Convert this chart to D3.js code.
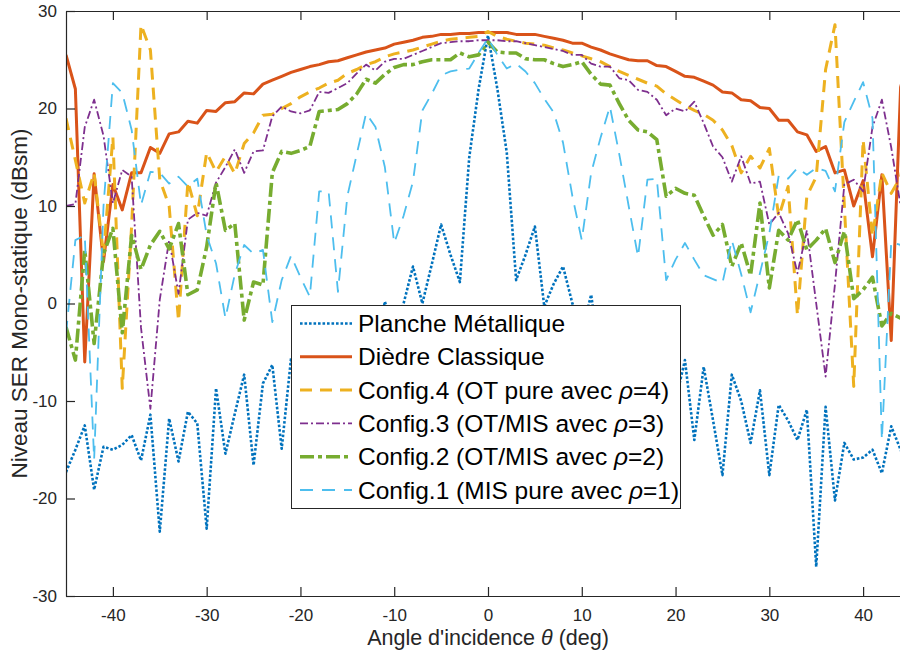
<!DOCTYPE html>
<html>
<head>
<meta charset="utf-8">
<script src="https://cdn.jsdelivr.net/npm/d3@7"></script>
<style>
  html, body { margin: 0; padding: 0; background: #fff; }
  svg { display: block; font-family: "Liberation Sans", Arial, Helvetica, sans-serif; }
</style>
</head>
<body>
<svg id="chart" width="900" height="653"></svg>
<script>
// Incidence angles (deg), one sample per degree
const angles = d3.range(-45, 46, 1);

// Monostatic RCS levels (dBsm) for each configuration
const planche = [-17.3,-15.0,-12.5,-19.1,-14.7,-15.0,-14.5,-13.5,-16.1,-11.4,-23.4,-11.8,-16.2,-11.1,-12.3,-23.1,-8.7,-15.4,-11.3,-7.3,-16.6,-8.2,-6.3,-14.9,-5.6,-12.0,-4.0,-10.0,-3.0,-9.0,-2.5,-8.0,-1.5,-6.0,0.2,-3.0,0.0,3.8,0.0,4.0,8.1,5.0,2.2,15.0,22.0,27.5,22.0,15.5,2.4,5.0,7.9,-0.3,2.0,3.8,0.0,-3.0,0.9,-6.0,-2.0,-8.0,-3.0,-9.0,-4.0,-10.0,-3.0,-10.0,-5.8,-14.0,-6.5,-12.0,-17.6,-7.3,-10.0,-14.3,-8.9,-17.6,-10.4,-12.0,-14.0,-10.9,-27.0,-10.6,-20.2,-14.3,-16.0,-15.8,-15.0,-17.4,-12.6,-15.0,-17.3];
const diedre = [25.5,22.0,-6.0,13.3,4.3,12.2,9.6,13.4,13.4,16.0,15.4,17.4,17.6,18.7,18.5,19.8,19.7,20.6,20.7,21.6,21.5,22.5,22.9,23.3,23.7,24.0,24.3,24.5,24.8,24.9,25.2,25.5,25.8,26.0,26.2,26.6,26.8,27.0,27.3,27.4,27.6,27.6,27.7,27.7,27.8,27.8,27.8,27.8,27.6,27.6,27.6,27.4,27.2,27.0,26.7,26.7,26.3,26.0,25.6,25.3,25.0,24.9,24.9,24.4,24.3,23.8,23.3,23.2,22.8,22.4,21.7,21.6,20.9,20.8,20.1,20.0,18.8,18.8,17.6,17.3,15.6,16.1,13.4,13.7,10.0,12.6,4.8,13.2,-3.8,22.2,25.5];
const config4 = [19.0,14.7,10.3,13.4,5.0,17.1,-8.7,8.0,28.6,26.0,12.7,10.0,-1.8,12.5,9.0,15.5,13.5,15.1,13.3,16.4,17.5,19.3,19.4,20.0,20.5,21.2,21.7,22.1,22.6,22.9,23.6,24.0,24.5,24.8,25.3,25.6,25.8,26.0,26.3,26.6,26.9,27.1,27.2,27.3,27.4,27.9,27.4,27.1,26.9,26.7,26.6,26.5,26.2,26.0,25.7,25.4,25.1,24.8,24.3,23.8,23.4,23.0,22.6,22.3,21.5,20.9,20.3,19.8,19.4,18.8,17.8,16.2,13.4,15.1,13.9,15.9,8.9,12.0,-1.2,11.0,13.0,24.0,28.6,10.0,-8.5,16.8,6.9,13.4,11.3,13.0,19.0];
const config3 = [10.0,10.2,18.1,20.9,17.2,10.3,13.7,13.0,-2.5,-10.8,0.4,6.5,1.0,8.6,9.3,9.0,12.4,14.0,15.8,13.4,15.6,15.7,19.2,20.2,19.7,19.5,19.8,21.7,21.6,22.1,22.6,23.6,24.5,23.9,24.8,25.1,25.1,25.5,25.9,26.3,26.7,26.8,26.9,26.9,27.0,27.0,27.0,26.9,26.9,26.7,26.5,26.3,26.1,25.9,25.5,25.5,24.6,24.3,24.3,23.1,22.9,21.9,21.7,20.9,19.3,20.0,19.7,20.7,18.5,16.1,15.0,12.5,15.1,12.3,12.5,8.1,9.3,7.2,3.1,7.5,0.0,-7.5,2.0,12.2,12.7,11.5,18.1,20.9,16.0,10.0,10.0];
const config2 = [-2.4,-5.8,5.5,-4.1,5.1,7.7,-3.0,7.0,3.5,6.0,7.4,5.6,8.2,0.9,1.4,5.8,12.4,7.5,8.2,-1.7,2.2,1.9,13.4,15.6,15.4,15.7,16.1,19.7,19.8,19.9,20.5,21.5,23.0,22.6,23.5,24.2,24.5,24.5,24.8,25.0,25.0,25.0,25.7,25.3,25.5,26.8,25.8,25.7,25.7,25.1,25.0,25.0,24.6,24.3,24.5,24.8,23.5,22.5,22.4,20.5,18.8,17.8,17.6,16.8,11.0,11.8,11.3,11.1,9.0,7.0,8.1,3.8,6.2,2.9,10.3,1.6,7.5,6.5,8.6,5.5,6.5,7.7,4.2,7.4,0.5,1.4,2.7,-2.3,-1.0,-1.5,-2.4];
const config1 = [-3.1,6.5,7.0,-16.0,10.0,22.6,21.6,17.8,10.1,13.5,13.4,12.3,13.0,12.0,12.8,7.0,4.1,-1.5,3.0,6.0,5.1,5.5,-1.9,2.4,4.9,2.7,0.7,11.5,11.5,1.2,11.0,15.3,19.5,18.1,14.0,6.2,9.0,12.5,19.8,21.5,23.4,23.8,24.0,24.1,25.7,27.2,25.5,24.1,24.6,23.8,22.6,21.0,19.6,16.5,11.0,6.5,13.4,17.0,20.2,15.3,10.0,4.8,12.7,12.8,2.4,4.5,6.2,4.5,2.9,2.5,2.1,6.5,3.0,-0.9,3.1,7.2,13.1,12.8,13.9,13.2,13.9,13.6,11.5,18.6,20.7,22.7,19.0,-14.0,6.3,6.0,-3.0];

// Axis ticks
const xTicks = [-40, -30, -20, -10, 0, 10, 20, 30, 40];
const yTicks = [-30, -20, -10, 0, 10, 20, 30];

// Series names, in drawing / legend order
const seriesNames = [
  "Planche Métallique",
  "Dièdre Classique",
  "Config.4 (OT pure avec ρ=4)",
  "Config.3 (OT/MIS avec ρ=3)",
  "Config.2 (OT/MIS avec ρ=2)",
  "Config.1 (MIS pure avec ρ=1)"
];
const seriesValues = [planche, diedre, config4, config3, config2, config1];

// Line appearance for each series
const styles = [
  { color: "#0072BD", width: 2.6, dash: "2.6,1.9" },
  { color: "#D95319", width: 3.0, dash: null },
  { color: "#EDB120", width: 3.0, dash: "12,8" },
  { color: "#7E2F8E", width: 1.8, dash: "8,3,2,3" },
  { color: "#77AC30", width: 3.6, dash: "14,4,4,4" },
  { color: "#4DBEEE", width: 1.8, dash: "13,9" }
];

const svg = d3.select("#chart");
const plot = { left: 66, right: 910, top: 11, bottom: 596 };

const x = d3.scaleLinear().domain([-45, 45]).range([plot.left, plot.right]);
const y = d3.scaleLinear().domain([-30, 30]).range([plot.bottom, plot.top]);

svg.append("defs").append("clipPath").attr("id", "plotClip")
  .append("rect")
  .attr("x", plot.left).attr("y", plot.top)
  .attr("width", plot.right - plot.left).attr("height", plot.bottom - plot.top);

// Curves
const line = d3.line().x((d, i) => x(angles[i])).y(d => y(d));
const curves = svg.append("g").attr("clip-path", "url(#plotClip)");
seriesValues.forEach((vals, k) => {
  const st = styles[k];
  curves.append("path")
    .datum(vals)
    .attr("d", line)
    .attr("fill", "none")
    .attr("stroke", st.color)
    .attr("stroke-width", st.width)
    .attr("stroke-linejoin", "round")
    .attr("stroke-dasharray", st.dash);
});

// Axes (inward ticks, box on top)
const axisColor = "#262626";
const fmt = d => String(d);

const gx = svg.append("g").attr("transform", `translate(0,${plot.bottom})`)
  .call(d3.axisBottom(x).tickValues(xTicks).tickSize(-9).tickSizeOuter(0).tickPadding(13).tickFormat(fmt));
const gxTop = svg.append("g").attr("transform", `translate(0,${plot.top})`)
  .call(d3.axisTop(x).tickValues(xTicks).tickSize(-9).tickSizeOuter(0).tickFormat(""));
const gy = svg.append("g").attr("transform", `translate(${plot.left},0)`)
  .call(d3.axisLeft(y).tickValues(yTicks).tickSize(-9).tickSizeOuter(0).tickPadding(9).tickFormat(fmt));

[gx, gxTop, gy].forEach(g => {
  g.selectAll("path.domain").attr("stroke", axisColor).attr("stroke-width", 1.2);
  g.selectAll(".tick line").attr("stroke", axisColor).attr("stroke-width", 1.2);
  g.selectAll(".tick text").attr("fill", axisColor).attr("font-size", 17)
    .attr("font-family", "'Liberation Sans', Arial, sans-serif");
});

// Axis titles
const xTitle = svg.append("text")
  .attr("x", x(0)).attr("y", 645)
  .attr("text-anchor", "middle").attr("font-size", 21.5).attr("fill", axisColor);
xTitle.append("tspan").text("Angle d'incidence ");
xTitle.append("tspan").attr("font-style", "italic").text("θ");
xTitle.append("tspan").text(" (deg)");

svg.append("text")
  .attr("transform", `translate(27,${y(0)}) rotate(-90)`)
  .attr("text-anchor", "middle").attr("font-size", 22.5).attr("fill", axisColor)
  .text("Niveau SER Mono-statique (dBsm)");

// Legend
const leg = { x: 291, y: 305, w: 389, h: 203, row: 33.3 };
const lg = svg.append("g");
lg.append("rect")
  .attr("x", leg.x + 0.5).attr("y", leg.y + 0.5)
  .attr("width", leg.w).attr("height", leg.h)
  .attr("fill", "#fff").attr("stroke", axisColor).attr("stroke-width", 1);

seriesNames.forEach((name, k) => {
  const st = styles[k];
  const cy = leg.y + 18.5 + k * leg.row;
  lg.append("line")
    .attr("x1", leg.x + 9).attr("x2", leg.x + 61)
    .attr("y1", cy).attr("y2", cy)
    .attr("stroke", st.color).attr("stroke-width", st.width)
    .attr("stroke-dasharray", st.dash);
  const t = lg.append("text")
    .attr("x", leg.x + 67).attr("y", cy + 8.5)
    .attr("font-size", 24.5).attr("fill", "#000");
  const rho = name.indexOf("ρ");
  if (rho < 0) {
    t.text(name);
  } else {
    t.append("tspan").text(name.slice(0, rho));
    t.append("tspan").attr("font-style", "italic").text("ρ");
    t.append("tspan").text(name.slice(rho + 1));
  }
});
</script>
</body>
</html>
